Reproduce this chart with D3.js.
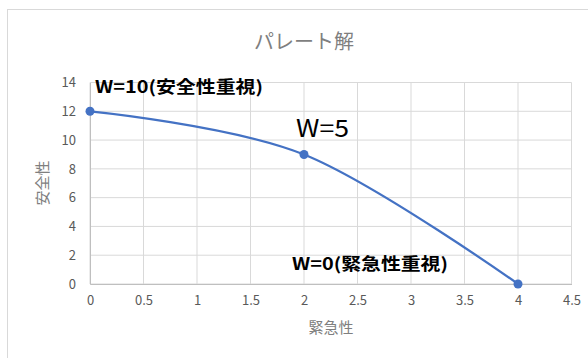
<!DOCTYPE html>
<html><head><meta charset="utf-8">
<script src="https://cdn.jsdelivr.net/npm/d3@7"></script>
<style>body{margin:0;background:#fff}svg{display:block}</style>
</head><body>
<svg id="c" width="588" height="358"></svg>
<script>
const urgency = [0, 2, 4];
const safety = [12, 9, 0];
const xTicks = [0, 0.5, 1, 1.5, 2, 2.5, 3, 3.5, 4, 4.5];
const yTicks = [0, 2, 4, 6, 8, 10, 12, 14];
const labels = ["W=10(安全性重視)", "W=5", "W=0(緊急性重視)"];
const title = "パレート解";
const xTitle = "緊急性";
const yTitle = "安全性";

const F = '"Noto Sans CJK JP", "Noto Sans", sans-serif';
const svg = d3.select("#c");
svg.append("rect").attr("x", 7.5).attr("y", 9.5).attr("width", 600).attr("height", 400)
  .attr("fill", "#fff").attr("stroke", "#d9d9d9");

const x = d3.scaleLinear().domain([0, 4.5]).range([90, 571.5]);
const y = d3.scaleLinear().domain([0, 14]).range([284, 82.5]);

// grid
svg.append("g").selectAll("line").data(yTicks).join("line")
  .attr("x1", x(0)).attr("x2", x(4.5)).attr("y1", d => y(d)).attr("y2", d => y(d))
  .attr("stroke", "#d9d9d9").attr("stroke-width", 1);
svg.append("g").selectAll("line").data(xTicks).join("line")
  .attr("y1", y(0)).attr("y2", y(14)).attr("x1", d => x(d)).attr("x2", d => x(d))
  .attr("stroke", "#d9d9d9").attr("stroke-width", 1);

// axes
const xAxis = svg.append("g").attr("transform", `translate(0,${y(0)})`)
  .call(d3.axisBottom(x).tickValues(xTicks).tickSize(0).tickPadding(12).tickFormat(d3.format("")));
const yAxis = svg.append("g").attr("transform", `translate(${x(0)},0)`)
  .call(d3.axisLeft(y).tickValues(yTicks).tickSize(0).tickPadding(14).tickFormat(d3.format("")));
[xAxis, yAxis].forEach(g => {
  g.select(".domain").attr("stroke", "#bfbfbf");
  g.selectAll("text").attr("fill", "#595959").style("font-family", F).style("font-size", "13px");
});

// line
const pts = urgency.map((u, i) => [u, safety[i]]);
svg.append("path").datum(pts)
  .attr("d", d3.line().x(d => x(d[0])).y(d => y(d[1])).curve(d3.curveCardinal.tension(0)))
  .attr("fill", "none").attr("stroke", "#4472c4").attr("stroke-width", 2.25);
svg.append("g").selectAll("circle").data(pts).join("circle")
  .attr("cx", d => x(d[0])).attr("cy", d => y(d[1])).attr("r", 4.5).attr("fill", "#4472c4");

// titles
svg.append("text").attr("x", 304).attr("y", 49).attr("text-anchor", "middle")
  .attr("fill", "#7f7f7f").style("font-family", F).style("font-size", "20px").text(title);
svg.append("text").attr("x", 331).attr("y", 333).attr("text-anchor", "middle")
  .attr("fill", "#7f7f7f").style("font-family", F).style("font-size", "15px").text(xTitle);
svg.append("text").attr("transform", "translate(48,183) rotate(-90)").attr("text-anchor", "middle")
  .attr("fill", "#7f7f7f").style("font-family", F).style("font-size", "15px").text(yTitle);

// annotations
const ann = [
  {t: labels[0], x: 95, y: 93, size: 17, w: "bold", len: 168},
  {t: labels[1], x: 296, y: 137, size: 24, w: "normal", len: 53},
  {t: labels[2], x: 292, y: 270, size: 17, w: "bold", len: 156}
];
svg.append("g").selectAll("text").data(ann).join("text")
  .attr("x", d => d.x).attr("y", d => d.y).attr("fill", "#000")
  .style("font-family", F).style("font-size", d => d.size + "px").style("font-weight", d => d.w)
  .attr("textLength", d => d.len).attr("lengthAdjust", "spacingAndGlyphs")
  .text(d => d.t);
</script>
</body></html>
